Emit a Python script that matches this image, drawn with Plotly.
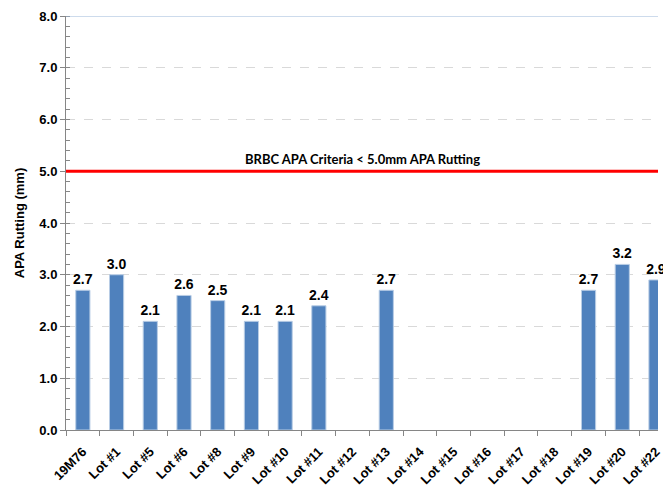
import plotly.graph_objects as go

categories = ["19M76", "Lot #1", "Lot #5", "Lot #6", "Lot #8", "Lot #9", "Lot #10", "Lot #11",
              "Lot #12", "Lot #13", "Lot #14", "Lot #15", "Lot #16", "Lot #17", "Lot #18",
              "Lot #19", "Lot #20", "Lot #22"]
values = [2.7, 3.0, 2.1, 2.6, 2.5, 2.1, 2.1, 2.4, None, 2.7, None, None, None, None, None,
          2.7, 3.2, 2.9]
criteria = 5.0
criteria_label = "BRBC APA Criteria < 5.0mm APA Rutting"
y_ticks = [0, 1, 2, 3, 4, 5, 6, 7, 8]

FONT = "Liberation Sans, Arial, sans-serif"

fig = go.Figure()
fig.add_trace(go.Bar(
    x=categories, y=values,
    marker=dict(color="#4F81BD", line=dict(color="#B9CDE5", width=1)),
    text=[f"<b>{v:.1f}</b>" if v is not None else "" for v in values],
    textposition="outside",
    constraintext="none",
    textfont=dict(family=FONT, size=14, color="#000000"),
    cliponaxis=False,
    width=0.42,
))

fig.add_shape(type="line", xref="paper", yref="y", x0=0, x1=1, y0=criteria, y1=criteria,
              line=dict(color="#FF0000", width=3))
fig.add_shape(type="line", xref="paper", yref="y", x0=0, x1=1, y0=8, y1=8,
              line=dict(color="#9BB7D9", width=1))
fig.add_annotation(x=0.5, xref="paper", y=criteria, yref="y", text=f"<b>{criteria_label}</b>",
                   showarrow=False, yshift=12,
                   font=dict(family="Lato, Open Sans", size=13, color="#000000"))

fig.update_layout(
    width=663, height=487,
    margin=dict(l=66, r=0, t=16, b=55),
    paper_bgcolor="white", plot_bgcolor="white",
    showlegend=False,
    font=dict(family=FONT, size=13, color="#000000"),
)
fig.update_xaxes(
    type="category", range=[-0.5, 17.06],
    tickangle=-45,
    tickfont=dict(family=FONT, size=13, color="#000000"),
    showline=True, linecolor="#868686", linewidth=1,
    ticks="outside", ticklen=5, tickcolor="#868686",
    tickson="boundaries",
    ticklabelstandoff=8,
    showgrid=False,
    tickvals=categories, ticktext=[f"<b>{c}</b>" for c in categories],
)
fig.update_yaxes(
    range=[0, 8],
    tickvals=y_ticks, ticktext=[f"<b>{t:.1f}</b>" for t in y_ticks],
    tickfont=dict(family=FONT, size=13, color="#000000"),
    showline=True, linecolor="#868686", linewidth=1,
    ticks="outside", ticklen=5, tickcolor="#868686",
    minor=dict(dtick=0.2, ticks="inside", ticklen=4, tickcolor="#868686", showgrid=False),
    showgrid=True, gridcolor="#D9D9D9", griddash="dash", gridwidth=1,
    title=dict(text="<b>APA Rutting (mm)</b>", font=dict(size=13), standoff=11),
    zeroline=False,
)

fig.write_html("out.html", config={"displayModeBar": False},
               post_script="document.body.style.margin='0';document.body.style.overflow='hidden';")
